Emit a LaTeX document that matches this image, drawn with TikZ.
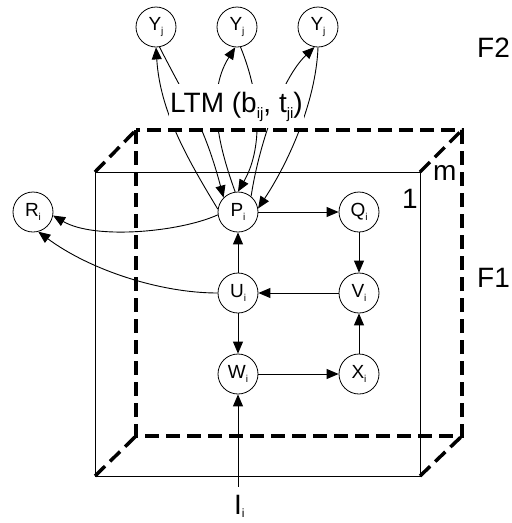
\documentclass[tikz,border=0pt]{standalone}
\usepackage{fontspec}
\setmainfont{Liberation Sans}
\usetikzlibrary{arrows.meta}
\newcommand\lsub[2][-4pt]{\raisebox{#1}{\fontsize{10}{10}\selectfont #2}}
\newcommand\bsub[1]{\raisebox{-6pt}{\fontsize{15}{15}\selectfont #1}}
\begin{document}
\begin{tikzpicture}[x=1pt,y=-1pt,
  state/.style={circle, draw, line width=0.8pt, minimum size=40pt, inner sep=0pt, font=\fontsize{19}{19}\selectfont},
  big/.style={inner sep=0pt, anchor=base west, font=\fontsize{28}{28}\selectfont},
  arr/.style={-{Triangle[length=12pt,width=10pt]}, line width=0.9pt},
  bdash/.style={line width=3.5pt, dash pattern=on 14pt off 7pt},
  front/.style={line width=1pt}]
\useasboundingbox (0,0) rectangle (512,523);

% box
\draw[front] (95,172) rectangle (420,476);
\draw[bdash] (136,130) rectangle (462,436);
\draw[bdash] (95,172) -- (136,130);
\draw[bdash] (420,172) -- (462,130);
\draw[bdash] (95,476) -- (136,436);
\draw[bdash] (420,476) -- (462,436);

% nodes
\node[state] (Y1) at (156,27) {Y\lsub{j}};
\node[state] (Y2) at (237,27) {Y\lsub{j}};
\node[state] (Y3) at (318,27) {Y\lsub{j}};
\node[state] (P) at (238,212) {P\lsub{i}};
\node[state] (Q) at (359,212) {Q\lsub{i}};
\node[state] (R) at (33,212) {R\lsub{i}};
\node[state] (U) at (238,293) {U\lsub{i}};
\node[state] (V) at (359,293) {V\lsub{i}};
\node[state] (W) at (238,374) {W\lsub{i}};
\node[state] (X) at (359,374) {X\lsub{i}};

% LTM curves
\draw[arr] (P.172) .. controls (185,155) and (160,110) .. (Y1.south);
\draw[arr] (Y1.-80) .. controls (188,103) and (204,124) .. (P.135);
\draw[arr] (P.98) .. controls (220,150) and (205,95) .. (Y2.-95);
\draw[arr] (Y2.-80) .. controls (262,100) and (262,150) .. (P.north);
\draw[arr] (P.50) .. controls (258,150) and (280,80) .. (Y3.-100);
\draw[arr] (Y3.south) .. controls (316,100) and (290,160) .. (P.10);

\node[big, fill=white, inner xsep=1pt, text height=28pt, text depth=16pt] (LTM) at (169,112) {LTM (b\bsub{ij}, t\bsub{ji})};

% to R
\draw[arr] (P.188) .. controls (180,232) and (95,240) .. (R.-10);
\draw[arr] (U.west) .. controls (160,293) and (90,270) .. (R.-75);

% straight
\draw[arr] (P) -- (Q);
\draw[arr] (Q) -- (V);
\draw[arr] (V) -- (U);
\draw[arr] (U) -- (P);
\draw[arr] (U) -- (W);
\draw[arr] (W) -- (X);
\draw[arr] (X) -- (V);

% labels
\node[big] (F2) at (477,57) {F2};
\node[big] (F1) at (477,287) {F1};
\node[big] (one) at (402,208) {1};
\node[big] (m) at (433,180) {m};
\node[big, inner ysep=8pt] (I) at (234,514) {I\lsub[-3pt]{\fontsize{12}{12}\selectfont i}};
\draw[arr] (I.north -| W.south) -- (W.south);
\end{tikzpicture}
\end{document}
